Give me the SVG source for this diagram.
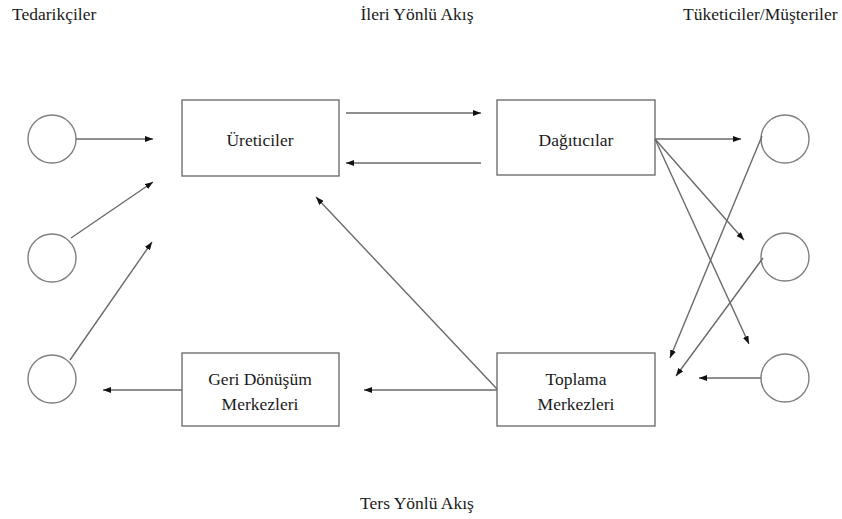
<svg xmlns="http://www.w3.org/2000/svg" width="842" height="519" viewBox="0 0 842 519">
<defs>
<marker id="ah" viewBox="0 0 8 6" refX="8" refY="3" markerWidth="8" markerHeight="6" markerUnits="userSpaceOnUse" orient="auto">
<path d="M0,0 L8,3 L0,6 Z" fill="#111"/>
</marker>
</defs>
<style>
.t{font-size:17.5px;fill:#1a1a1a}
.m{text-anchor:middle}
.box{fill:#fff;stroke:#707070;stroke-width:1.4}
.c{fill:#fff;stroke:#808080;stroke-width:1.4}
.ln{stroke:#6a6a6a;stroke-width:1.4;fill:none;marker-end:url(#ah)}
</style>
<rect width="842" height="519" fill="#fff"/>
<g font-family="Liberation Serif, Times New Roman, serif">
<g id="labels">
<text class="t" x="12" y="20">Tedarikçiler</text>
<text class="t m" x="417" y="20">İleri Yönlü Akış</text>
<text class="t" x="683" y="20">Tüketiciler/Müşteriler</text>
<text class="t m" x="417" y="509">Ters Yönlü Akış</text>
</g>
<g id="s1"><circle class="c" cx="52" cy="139" r="24"/></g>
<g id="s2"><circle class="c" cx="52" cy="258" r="24"/></g>
<g id="s3"><circle class="c" cx="52" cy="379" r="24"/></g>
<g id="c1"><circle class="c" cx="785" cy="139" r="24"/></g>
<g id="c2"><circle class="c" cx="785" cy="257" r="24"/></g>
<g id="c3"><circle class="c" cx="785" cy="378" r="24"/></g>
<g id="ureticiler"><rect class="box" x="182" y="100" width="157" height="76"/><text class="t m" x="260" y="146">Üreticiler</text></g>
<g id="dagiticilar"><rect class="box" x="497" y="100" width="158" height="75"/><text class="t m" x="576" y="146">Dağıtıcılar</text></g>
<g id="geri"><rect class="box" x="182" y="353" width="157" height="73"/><text class="t m" x="260" y="385">Geri Dönüşüm</text><text class="t m" x="260" y="410">Merkezleri</text></g>
<g id="toplama"><rect class="box" x="497" y="353" width="158" height="73"/><text class="t m" x="576" y="385">Toplama</text><text class="t m" x="576" y="410">Merkezleri</text></g>
</g>
<g id="connectors">
<line class="ln" x1="76" y1="139" x2="153" y2="139"/>
<line class="ln" x1="71" y1="238" x2="153" y2="182"/>
<line class="ln" x1="70" y1="360" x2="152" y2="242"/>
<line class="ln" x1="346" y1="113" x2="481" y2="113"/>
<line class="ln" x1="481" y1="163" x2="346" y2="163"/>
<line class="ln" x1="655" y1="139" x2="741" y2="139"/>
<line class="ln" x1="655" y1="139" x2="744" y2="240"/>
<line class="ln" x1="655" y1="139" x2="749" y2="344"/>
<line class="ln" x1="762" y1="136" x2="670" y2="358"/>
<line class="ln" x1="763" y1="258" x2="676" y2="376"/>
<line class="ln" x1="761" y1="378" x2="699" y2="378"/>
<line class="ln" x1="497" y1="389" x2="316" y2="197"/>
<line class="ln" x1="497" y1="390" x2="364" y2="390"/>
<line class="ln" x1="182" y1="390" x2="103" y2="390"/>
</g>
</svg>
